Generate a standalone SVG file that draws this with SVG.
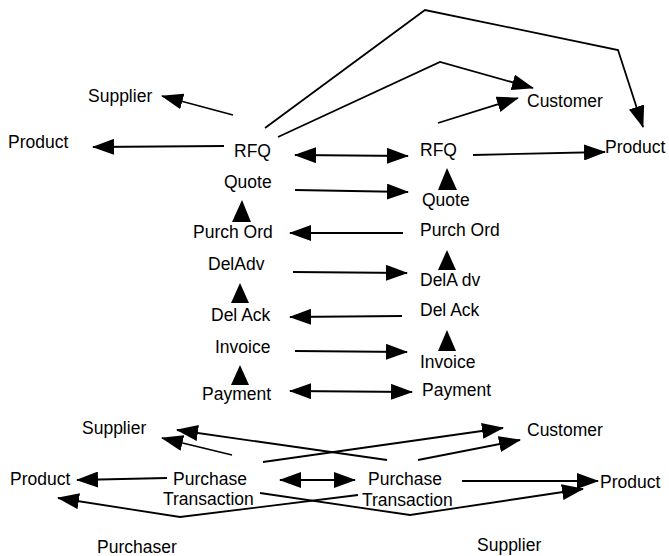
<svg xmlns="http://www.w3.org/2000/svg" width="669" height="556" viewBox="0 0 669 556">
<style>
text{font-family:"Liberation Sans",Arial,sans-serif;font-size:17.5px;fill:#000}
.c{fill:none;stroke:#000;stroke-width:1.8;marker-end:url(#ah)}
.d{marker-start:url(#ah)}
.t{fill:#000;stroke:none}
</style>
<defs>
<marker id="ah" markerUnits="userSpaceOnUse" markerWidth="22" markerHeight="16" viewBox="0 0 22 16" refX="21" refY="8" orient="auto-start-reverse">
<path d="M0,0 L22,8 L0,16 z" fill="#000"/>
</marker>
</defs>
<rect width="669" height="556" fill="#fff"/>
<g id="connectors">
<line class="c" x1="233" y1="115" x2="162" y2="96"/>
<line class="c" x1="224" y1="146" x2="93" y2="147"/>
<polyline class="c" points="265,128 425,10 618,50 643,127"/>
<polyline class="c" points="278,137 440,62 533,88"/>
<line class="c" x1="438" y1="123" x2="518" y2="98"/>
<line class="c" x1="473" y1="155" x2="605" y2="152"/>
<line class="c d" x1="295" y1="155" x2="408" y2="156"/>
<line class="c" x1="295" y1="190" x2="408" y2="192"/>
<polygon class="t" points="447,168 438,190 457,190"/>
<line class="c" x1="403" y1="233" x2="290" y2="233"/>
<polygon class="t" points="242,200 232,222 251,222"/>
<line class="c" x1="293" y1="272" x2="407" y2="273"/>
<polygon class="t" points="447,250 438,270 456,270"/>
<line class="c" x1="402" y1="316" x2="290" y2="317"/>
<polygon class="t" points="240,283 231,303 249,303"/>
<line class="c" x1="295" y1="351" x2="407" y2="352"/>
<polygon class="t" points="447,330 438,351 456,351"/>
<polygon class="t" points="240,365 231,385 249,385"/>
<line class="c d" x1="290" y1="391" x2="412" y2="392"/>
<line class="c" x1="167" y1="478" x2="77" y2="480"/>
<line class="c" x1="232" y1="455" x2="162" y2="438"/>
<line class="c" x1="263" y1="462" x2="503" y2="428"/>
<line class="c" x1="387" y1="460" x2="177" y2="430"/>
<line class="c" x1="418" y1="460" x2="520" y2="440"/>
<line class="c" x1="462" y1="481" x2="598" y2="481"/>
<line class="c d" x1="280" y1="480" x2="355" y2="480"/>
<polyline class="c" points="260,493 410,515 583,489"/>
<polyline class="c" points="358,495 180,517 58,498"/>
</g>
<g id="supplier-top"><text x="88" y="102">Supplier</text></g>
<g id="product-top-left"><text x="8" y="148">Product</text></g>
<g id="rfq-left"><text x="234" y="157">RFQ</text></g>
<g id="quote-left"><text x="224" y="188">Quote</text></g>
<g id="rfq-right"><text x="420" y="156">RFQ</text></g>
<g id="customer-top"><text x="527" y="107">Customer</text></g>
<g id="product-top-right"><text x="605" y="153">Product</text></g>
<g id="quote-right"><text x="422" y="206">Quote</text></g>
<g id="purchord-left"><text x="193" y="238">Purch Ord</text></g>
<g id="purchord-right"><text x="420" y="236">Purch Ord</text></g>
<g id="deladv-left"><text x="208" y="270">DelAdv</text></g>
<g id="deladv-right"><text x="420" y="286">DelA dv</text></g>
<g id="delack-left"><text x="211" y="321">Del Ack</text></g>
<g id="delack-right"><text x="420" y="316">Del Ack</text></g>
<g id="invoice-left"><text x="215" y="353">Invoice</text></g>
<g id="invoice-right"><text x="420" y="368">Invoice</text></g>
<g id="payment-left"><text x="202" y="400">Payment</text></g>
<g id="payment-right"><text x="422" y="396">Payment</text></g>
<g id="supplier-bottom"><text x="82" y="434">Supplier</text></g>
<g id="customer-bottom"><text x="527" y="436">Customer</text></g>
<g id="product-bottom-left"><text x="10" y="485">Product</text></g>
<g id="pt-left"><text x="173" y="485">Purchase</text><text x="163" y="505">Transaction</text></g>
<g id="pt-right"><text x="368" y="485">Purchase</text><text x="362" y="506">Transaction</text></g>
<g id="product-bottom-right"><text x="600" y="488">Product</text></g>
<g id="purchaser"><text x="97" y="553">Purchaser</text></g>
<g id="supplier-label"><text x="477" y="551">Supplier</text></g>
</svg>
